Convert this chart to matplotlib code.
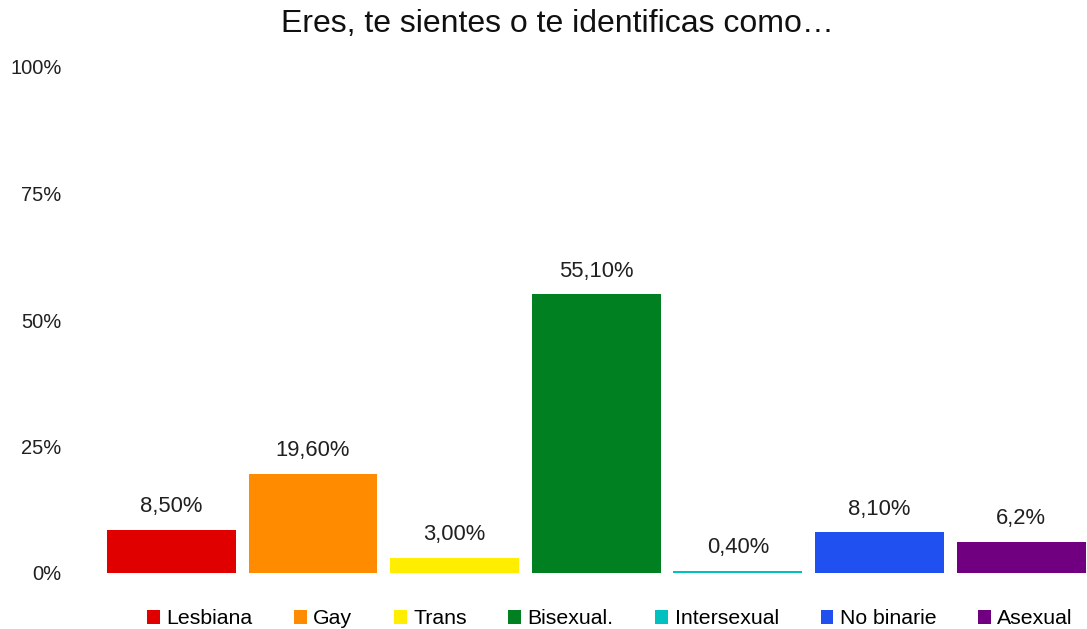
import matplotlib
matplotlib.use("Agg")
import matplotlib.pyplot as plt
from matplotlib.patches import Patch

categories = ["Lesbiana", "Gay", "Trans", "Bisexual.", "Intersexual", "No binarie", "Asexual"]
values = [0.085, 0.196, 0.030, 0.551, 0.004, 0.081, 0.062]
value_labels = ["8,50%", "19,60%", "3,00%", "55,10%", "0,40%", "8,10%", "6,2%"]
colors = ["#E00000", "#FF8C00", "#FFEE00", "#008020", "#00C0C0", "#2050F0", "#700080"]
y_ticks = [0, 0.25, 0.5, 0.75, 1.0]
y_tick_labels = ["0%", "25%", "50%", "75%", "100%"]

plt.rcParams["font.family"] = ["Liberation Sans", "DejaVu Sans"]

fig = plt.figure(figsize=(10.87, 6.29), dpi=100)
ax = fig.add_axes([100.6 / 1087, 1 - 573 / 629, 991.4 / 1087, 506 / 629])

x = range(len(categories))
ax.bar(x, values, width=0.91, color=colors)
for xi, v, lab in zip(x, values, value_labels):
    ax.annotate(lab, (xi, v), xytext=(0, 9), textcoords="offset points",
                ha="center", va="bottom", fontsize=15.8, color="#202020")

ax.set_xlim(-0.5, len(categories) - 0.5)
ax.set_ylim(0, 1)
ax.set_yticks(y_ticks)
ax.set_yticklabels(y_tick_labels, fontsize=14.5, color="#202020")
ax.set_xticks([])
ax.tick_params(axis="y", length=0, pad=28)
for s in ax.spines.values():
    s.set_visible(False)

fig.text(0.513, 0.962, "Eres, te sientes o te identificas como…",
         ha="center", va="center", fontsize=23, color="#101010")

handles = [Patch(facecolor=c, edgecolor="none") for c in colors]
fig.legend(handles, categories, loc="center", bbox_to_anchor=(0.561, 0.016), ncol=7,
           frameon=False, fontsize=15.3, handlelength=0.6, handleheight=0.6,
           handletextpad=0.3, columnspacing=1.97)

fig.savefig("out.png", dpi=100)
